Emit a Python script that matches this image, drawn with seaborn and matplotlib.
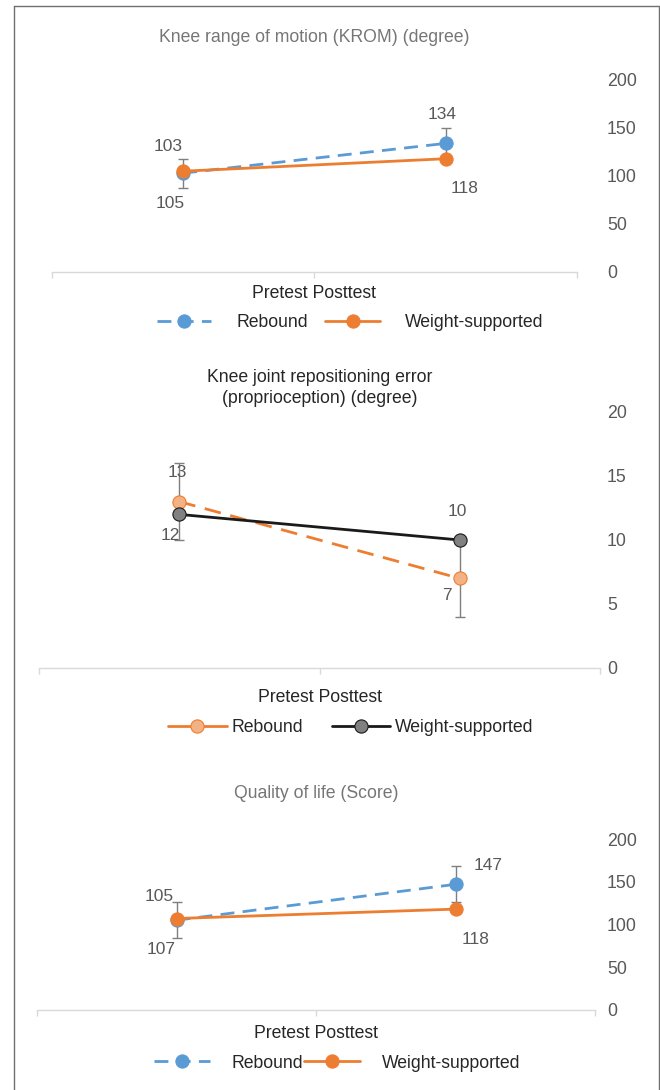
import numpy as np
import pandas as pd
import seaborn as sns
import matplotlib.pyplot as plt
from matplotlib.lines import Line2D

sns.set_theme(style="white")
plt.rcParams['font.family'] = ['Liberation Sans', 'DejaVu Sans']

phases = ["Pretest", "Posttest"]
groups = ["Rebound", "Weight-supported"]

krom_rebound = [103, 134]
krom_weight = [105, 118]
krom_rebound_err = [15, 16]
krom_ticks = [0, 50, 100, 150, 200]

jpe_rebound = [13, 7]
jpe_weight = [12, 10]
jpe_rebound_err = [3, 3]
jpe_ticks = [0, 5, 10, 15, 20]

qol_rebound = [105, 147]
qol_weight = [107, 118]
qol_rebound_err = [21, 21]
qol_ticks = [0, 50, 100, 150, 200]

titles = ["Knee range of motion (KROM) (degree)",
          "Knee joint repositioning error\n(proprioception) (degree)",
          "Quality of life (Score)"]

W, H = 660, 1090
BLUE, ORANGE = "#5B9BD5", "#ED7D31"
GRAY_TXT = "#595959"
FS = 12.7


def fx(px):
    return px / W


def fy(py):
    return 1 - py / H


fig = plt.figure(figsize=(6.6, 10.9), dpi=100)

# outer frame
for xs, ys in [([14, 14], [6, 1090]), ([659, 659], [6, 1090]), ([14, 659], [6, 6])]:
    fig.add_artist(Line2D([fx(v) for v in xs], [fy(v) for v in ys],
                          color="#6f6f6f", lw=1.0))

panels = [
    dict(box=(52, 577, 80, 272), reb=krom_rebound, wgt=krom_weight, err=krom_rebound_err,
         ticks=krom_ticks, pad=21.5, title=titles[0], title_y=38, title_c="#767676",
         xl_y=293, leg_y=323, leg_x=350,
         reb_style=dict(color=BLUE, dashes=(5, 3), mfc=BLUE, mec=BLUE),
         wgt_style=dict(color=ORANGE, dashes=(1, 0), mfc=ORANGE, mec=ORANGE),
         leg_dashed=[True, False],
         offs=[[(-15, 27), (-4, 29)], [(-13, -32), (19, -30)]],
         leg=dict(handlelength=3.1, handletextpad=1.4, columnspacing=1.0)),
    dict(box=(39, 600, 412, 668), reb=jpe_rebound, wgt=jpe_weight, err=jpe_rebound_err,
         ticks=jpe_ticks, pad=5, title=titles[1], title_y=388, title_c="#262626",
         xl_y=697, leg_y=728, leg_x=351,
         reb_style=dict(color=ORANGE, dashes=(6, 3.5), mfc="#F4B183", mec=ORANGE),
         wgt_style=dict(color="#1a1a1a", dashes=(1, 0), mfc="#808080", mec="#1a1a1a"),
         leg_dashed=[False, False],
         offs=[[(-2, 29), (-13, -17)], [(-9, -21), (-2, 29)]],
         leg=dict(handlelength=3.3, handletextpad=0.3, columnspacing=1.6)),
    dict(box=(37, 595, 839, 1010), reb=qol_rebound, wgt=qol_weight, err=qol_rebound_err,
         ticks=qol_ticks, pad=8.6, title=titles[2], title_y=793, title_c="#767676",
         xl_y=1034, leg_y=1063, leg_x=337,
         reb_style=dict(color=BLUE, dashes=(5, 3), mfc=BLUE, mec=BLUE),
         wgt_style=dict(color=ORANGE, dashes=(1, 0), mfc=ORANGE, mec=ORANGE),
         leg_dashed=[True, False],
         offs=[[(-17, 24), (33, 19)], [(-15, -31), (20, -30)]],
         leg=dict(handlelength=3.2, handletextpad=1.2, columnspacing=0.05)),
]

for p in panels:
    x0, x1, ytop, ybot = p["box"]
    ax = fig.add_axes([fx(x0), fy(ybot), (x1 - x0) / W, (ybot - ytop) / H])

    df = pd.DataFrame({"phase": phases * 2,
                       "value": p["reb"] + p["wgt"],
                       "group": [groups[0]] * 2 + [groups[1]] * 2})

    ax.errorbar(phases, p["reb"], yerr=p["err"], fmt="none", ecolor="#7f7f7f",
                elinewidth=1.0, capsize=3.3, capthick=1.0, zorder=1)

    for g, st, z in [(groups[0], p["reb_style"], 3), (groups[1], p["wgt_style"], 4)]:
        sub = df[df["group"] == g]
        sns.lineplot(data=sub, x="phase", y="value", ax=ax, sort=False,
                     color=st["color"], lw=2.0, marker="o", markersize=9.5,
                     markerfacecolor=st["mfc"], markeredgecolor=st["mec"],
                     markeredgewidth=0.8, dashes=st["dashes"], zorder=z)

    # data labels
    for vals, offs in zip([p["reb"], p["wgt"]], p["offs"]):
        for i, (v, o) in enumerate(zip(vals, offs)):
            ax.annotate(f"{v}", xy=(i, v), xytext=(o[0] * 0.72, o[1] * 0.72),
                        textcoords="offset points", ha="center", va="center",
                        fontsize=12.5, color=GRAY_TXT, zorder=6)

    ax.set_xlim(-0.5, 1.5)
    ax.set_ylim(p["ticks"][0], p["ticks"][-1])
    ax.set_yticks(p["ticks"])
    ax.yaxis.tick_right()
    ax.tick_params(axis="y", length=0, pad=p["pad"], labelsize=12.8, labelcolor=GRAY_TXT)
    ax.set_xticks([0, 1])
    ax.set_xticklabels([])
    ax.set_xticks([-0.5, 0.5, 1.5], minor=True)
    ax.tick_params(axis="x", which="major", length=0)
    ax.tick_params(axis="x", which="minor", bottom=True, length=4.5, width=1, color="#d9d9d9")
    ax.set_xlabel("")
    ax.set_ylabel("")
    for s in ["top", "left", "right"]:
        ax.spines[s].set_visible(False)
    ax.spines["bottom"].set_color("#d9d9d9")
    ax.spines["bottom"].set_linewidth(1.0)
    ax.patch.set_alpha(0)

    cx = (x0 + x1) / 2
    fig.text(fx(cx), fy(p["title_y"]), p["title"], ha="center", va="center",
             fontsize=FS, color=p["title_c"], linespacing=1.25)
    fig.text(fx(cx), fy(p["xl_y"]), " ".join(phases), ha="center", va="center",
             fontsize=FS, color="#262626")

    handles = []
    for st, dashed in zip([p["reb_style"], p["wgt_style"]], p["leg_dashed"]):
        ls = (0, st["dashes"]) if dashed else "-"
        handles.append(Line2D([], [], color=st["color"], lw=2.0, ls=ls, marker="o",
                              markersize=9.5, markerfacecolor=st["mfc"],
                              markeredgecolor=st["mec"], markeredgewidth=0.8))
    fig.legend(handles, groups, loc="center", bbox_to_anchor=(fx(p["leg_x"]), fy(p["leg_y"])),
               ncol=2, frameon=False, fontsize=FS, numpoints=1, borderaxespad=0,
               labelcolor="#262626", **p["leg"])

fig.savefig("out.png", dpi=100)
